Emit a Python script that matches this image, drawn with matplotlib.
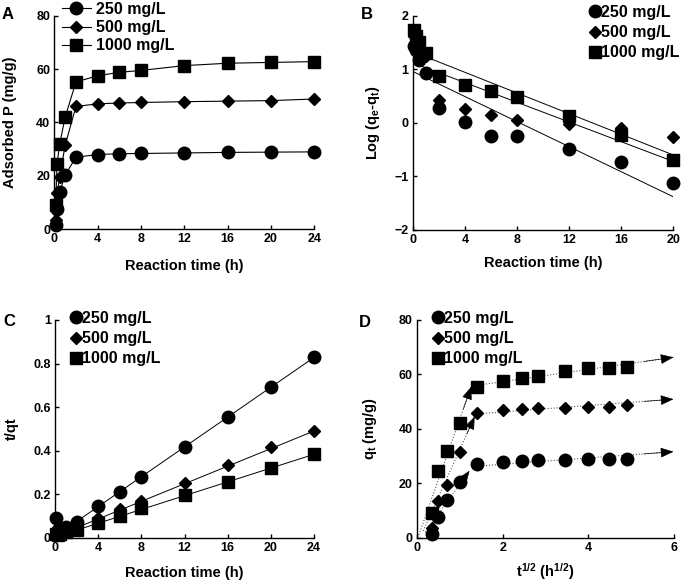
import matplotlib
matplotlib.use('Agg')
import matplotlib.pyplot as plt
import numpy as np

plt.rcParams["font.family"] = "Liberation Sans"
plt.rcParams.update({'font.size': 9, 'font.weight': 'bold'})
plt.rcParams['mathtext.fontset'] = 'custom'
plt.rcParams['mathtext.rm'] = 'Liberation Sans:bold'
plt.rcParams['mathtext.bf'] = 'Liberation Sans:bold'
plt.rcParams['mathtext.default'] = 'bf'

labels = ['250 mg/L', '500 mg/L', '1000 mg/L']
markers = ['o', 'D', 's']
msizes = [9, 6.5, 8.5]

# reaction time (h)
time = [0.125, 0.25, 0.5, 1, 2, 4, 6, 8, 12, 16, 20, 24]
sqrt_time = [0.354, 0.5, 0.707, 1.0, 1.414, 2.0, 2.449, 2.828, 3.464, 4.0, 4.472, 4.899]

# A: adsorbed P (mg/g)
qt_250 = [1.5, 7.5, 14, 20.3, 27, 28, 28.3, 28.4, 28.6, 28.8, 28.9, 29]
qt_500 = [3.5, 13.5, 19.5, 31.5, 46, 47, 47.3, 47.5, 47.8, 48, 48.2, 48.8]
qt_1000 = [9, 24.5, 32, 42, 55.2, 57.5, 58.8, 59.5, 61.3, 62.2, 62.5, 62.8]

# B: pseudo-first-order
time_b = [0.125, 0.25, 0.5, 1, 2, 4, 6, 8, 12, 16, 20]
log_250 = [1.44, 1.36, 1.18, 0.93, 0.27, 0.02, -0.24, -0.24, -0.48, -0.73, -1.13]
log_500 = [1.62, 1.52, 1.40, 1.25, 0.43, 0.26, 0.14, 0.05, -0.03, -0.10, -0.26]
log_1000 = [1.73, 1.62, 1.50, 1.30, 0.87, 0.70, 0.59, 0.49, 0.12, -0.22, -0.70]
fit_b_x = [0, 20]
fit_b_250 = [0.96, -1.38]
fit_b_500 = [1.12, -0.72]
fit_b_1000 = [1.33, -0.60]

# C: pseudo-second-order
tq_250 = [0.089, 0.035, 0.038, 0.05, 0.074, 0.145, 0.211, 0.28, 0.418, 0.556, 0.69, 0.828]
tq_500 = [0.035, 0.02, 0.028, 0.035, 0.05, 0.089, 0.13, 0.17, 0.253, 0.334, 0.415, 0.49]
tq_1000 = [0.015, 0.012, 0.016, 0.024, 0.035, 0.066, 0.101, 0.138, 0.196, 0.257, 0.318, 0.383]
fit_c_x = [0.125, 24]
fit_c_250 = [0.01, 0.828]
fit_c_500 = [0.008, 0.49]
fit_c_1000 = [0.005, 0.383]

# D: intraparticle diffusion, two segments per series
seg1_x = {'250': [0.2, 1.23], '500': [0.15, 1.35], '1000': [0.05, 1.27]}
seg1_y = {'250': [2, 24.6], '500': [2.5, 44.5], '1000': [1, 55.5]}
seg2_x = {'250': [1.41, 5.98], '500': [1.41, 5.98], '1000': [1.41, 5.98]}
seg2_y = {'250': [26.3, 31.6], '500': [45.5, 50.9], '1000': [56, 66.3]}

W, H = 685, 583
fig = plt.figure(figsize=(W / 100, H / 100), dpi=100)


def px_axes(l, t, r, b):
    return fig.add_axes([l / W, 1 - b / H, (r - l) / W, (b - t) / H])


def style(ax):
    ax.spines['top'].set_visible(False)
    ax.spines['right'].set_visible(False)
    for s in ['left', 'bottom']:
        ax.spines[s].set_linewidth(1.0)
    ax.tick_params(axis='both', direction='in', length=3, width=1, labelsize=9, pad=3)
    for lab in ax.get_xticklabels() + ax.get_yticklabels():
        lab.set_fontweight('bold')


def leg(ax, x, y, **kw):
    opts = dict(loc='upper left', bbox_to_anchor=(x / W, 1 - y / H), bbox_transform=fig.transFigure,
                frameon=False, fontsize=11.5, handlelength=0.6, handletextpad=0.1, labelspacing=0.32,
                borderpad=0, borderaxespad=0)
    opts.update(kw)
    ax.legend(**opts)


axA = px_axes(54.3, 15.7, 314.3, 229.3)
axB = px_axes(412.7, 15.7, 673.3, 230)
axC = px_axes(55, 320, 314, 537.7)
axD = px_axes(416.7, 320, 674.3, 537.7)

# ---- A
for y, m, ms, lab in zip([qt_250, qt_500, qt_1000], markers, msizes, labels):
    axA.plot(time, y, '-', c='k', lw=0.8, marker=m, ms=ms, mfc='k', mec='k', label=lab, clip_on=False)
axA.set_xlim(0, 24)
axA.set_ylim(0, 80)
axA.set_xticks([0, 4, 8, 12, 16, 20, 24])
axA.set_yticks([0, 20, 40, 60, 80])
axA.set_xlabel('Reaction time (h)', fontsize=10.5, fontweight='bold', labelpad=10)
axA.set_ylabel('Adsorbed P (mg/g)', fontsize=10.5, fontweight='bold', labelpad=14)
style(axA)
leg(axA, 62, 2, handlelength=1.8, handletextpad=0.3, labelspacing=0.2)

# ---- B
for y, m, ms, lab in zip([log_250, log_500, log_1000], markers, msizes, labels):
    axB.plot(time_b, y, ls='none', marker=m, ms=ms, mfc='k', mec='k', label=lab, clip_on=False)
for fy in [fit_b_250, fit_b_500, fit_b_1000]:
    axB.plot(fit_b_x, fy, '-', c='k', lw=0.7)
axB.set_xlim(0, 20)
axB.set_ylim(-2, 2)
axB.set_xticks([0, 4, 8, 12, 16, 20])
axB.set_yticks([-2, -1, 0, 1, 2])
axB.set_xlabel('Reaction time (h)', fontsize=10.5, fontweight='bold', labelpad=7)
axB.set_ylabel('Log (q$_e$-q$_t$)', fontsize=10.5, fontweight='bold', labelpad=9)
style(axB)
leg(axB, 590, 5)

# ---- C
for y, fy, m, ms, lab in zip([tq_250, tq_500, tq_1000], [fit_c_250, fit_c_500, fit_c_1000], markers, msizes, labels):
    axC.plot(time, y, ls='none', marker=m, ms=ms, mfc='k', mec='k', label=lab, clip_on=False)
    axC.plot(fit_c_x, fy, '-', c='k', lw=0.7)
axC.set_xlim(0, 24)
axC.set_ylim(0, 1)
axC.set_xticks([0, 4, 8, 12, 16, 20, 24])
axC.set_yticks([0, 0.2, 0.4, 0.6, 0.8, 1])
axC.set_yticklabels(['0', '0.2', '0.4', '0.6', '0.8', '1'])
axC.set_xlabel('Reaction time (h)', fontsize=10.5, fontweight='bold', labelpad=9)
axC.set_ylabel('t/qt', fontsize=10.5, fontweight='bold', labelpad=10)
style(axC)
leg(axC, 71, 311)

# ---- D
for y, m, ms, lab in zip([qt_250, qt_500, qt_1000], markers, msizes, labels):
    axD.plot(sqrt_time, y, ls='none', marker=m, ms=ms, mfc='k', mec='k', label=lab, clip_on=False, zorder=3)
for key in ['250', '500', '1000']:
    for sx, sy in [(seg1_x[key], seg1_y[key]), (seg2_x[key], seg2_y[key])]:
        axD.plot(sx, sy, ':', c='0.35', lw=0.8, zorder=2)
        bx = sx[1] - 0.15 * (sx[1] - sx[0])
        by = sy[1] - 0.15 * (sy[1] - sy[0])
        axD.annotate('', xy=(sx[1], sy[1]), xytext=(bx, by),
                     arrowprops=dict(arrowstyle='-|>,head_length=0.9,head_width=0.35', color='k', lw=0.5,
                                     shrinkA=0, shrinkB=0), zorder=2)
axD.set_xlim(0, 6)
axD.set_ylim(0, 80)
axD.set_xticks([0, 2, 4, 6])
axD.set_yticks([0, 20, 40, 60, 80])
axD.set_xlabel('t$^{1/2}$ (h$^{1/2}$)', fontsize=10.5, fontweight='bold', labelpad=5)
axD.set_ylabel('q$_t$ (mg/g)', fontsize=10.5, fontweight='bold', labelpad=14)
style(axD)
leg(axD, 433, 311)

# panel letters
for letter, x, y in [('A', 2, 7), ('B', 361, 7), ('C', 3, 314), ('D', 359, 315)]:
    fig.text(x / W, 1 - y / H, letter, fontsize=12, fontweight='bold', va='top', ha='left')

fig.savefig('out.png', dpi=100)
